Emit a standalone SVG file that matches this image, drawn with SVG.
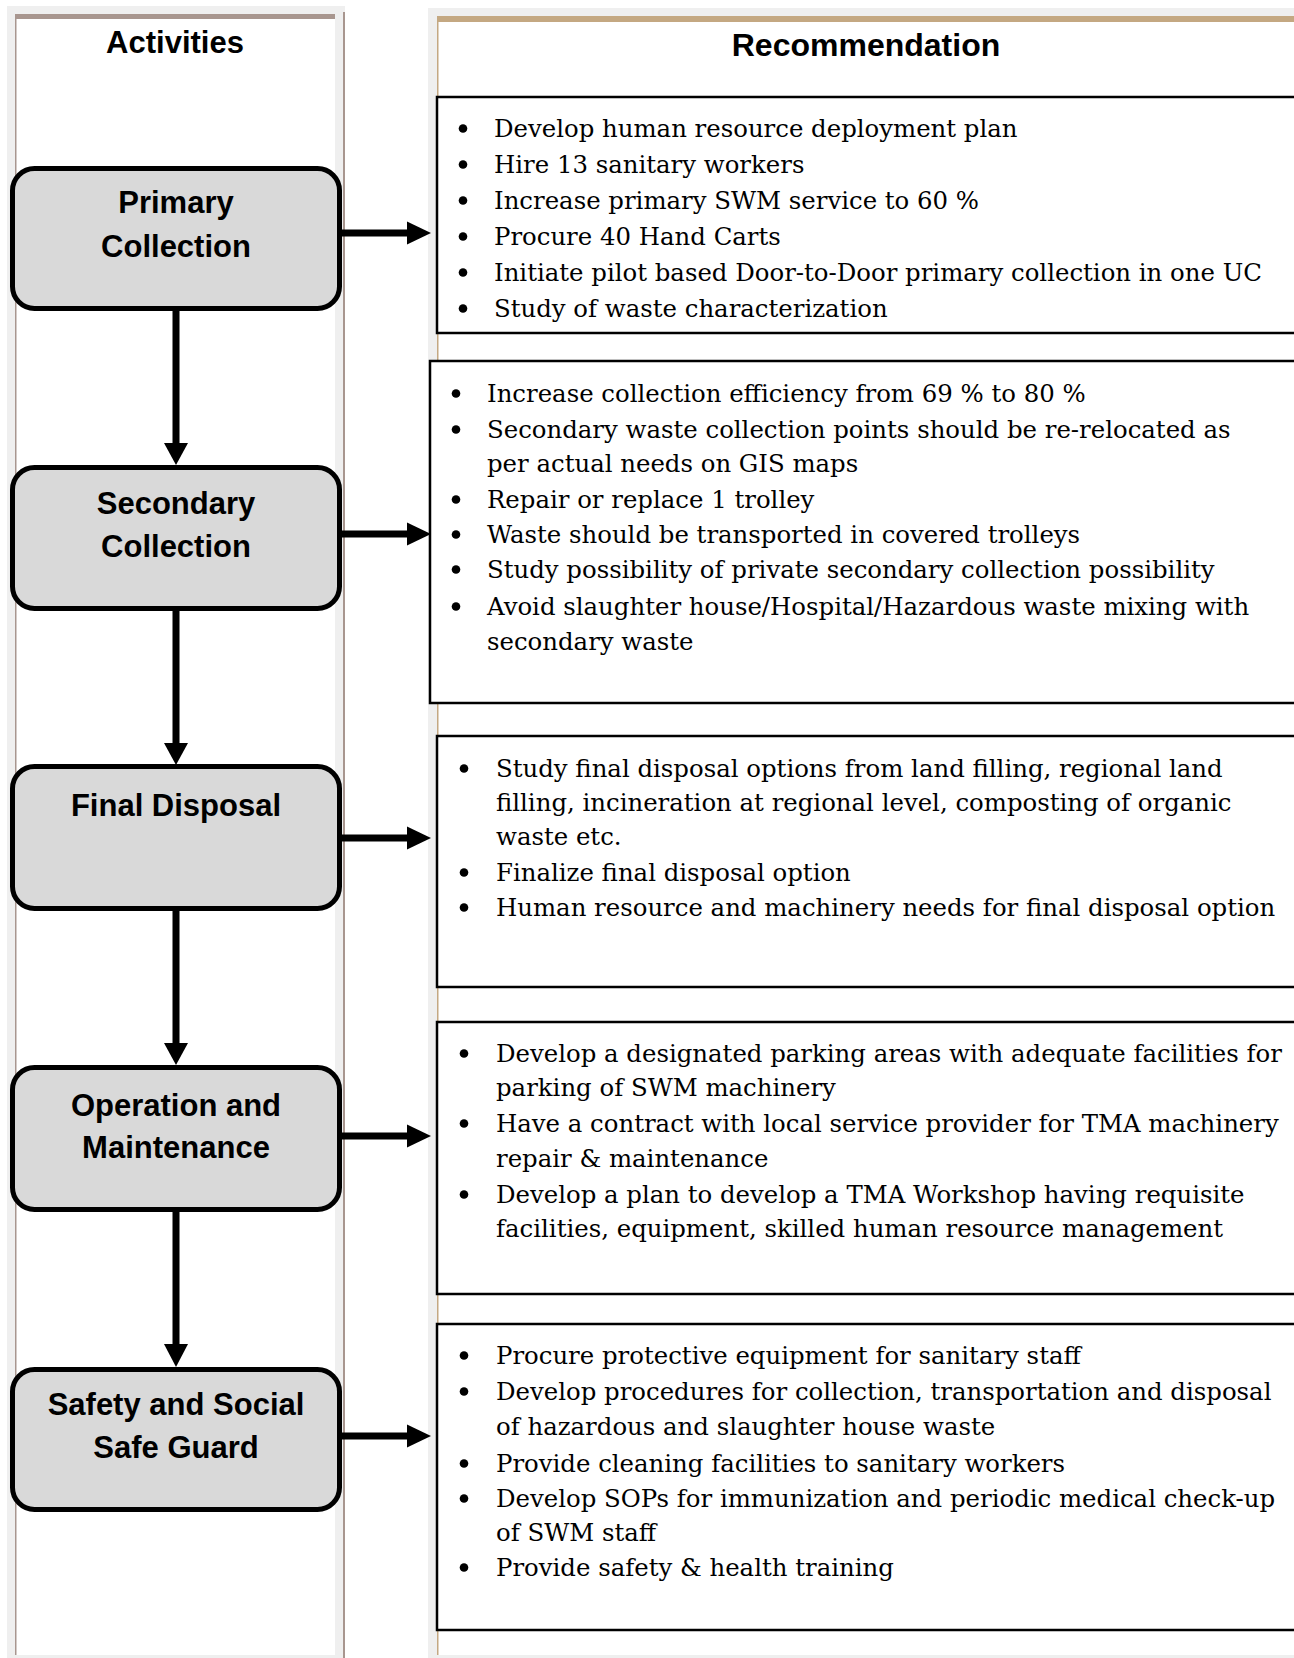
<svg xmlns="http://www.w3.org/2000/svg" width="1294" height="1658" viewBox="0 0 1294 1658">
<style>
.hdr{font-family:"Liberation Sans",Arial,sans-serif;font-weight:bold;font-size:31px;fill:#000;text-anchor:middle}
.lbl{font-family:"Liberation Sans",Arial,sans-serif;font-weight:bold;font-size:31px;fill:#000;text-anchor:middle}
.act{fill:#d9d9d9;stroke:#000;stroke-width:5}
.rec{fill:#fff;stroke:#000;stroke-width:2.5}
.txt{font-family:"DejaVu Serif","Liberation Serif",serif;font-size:24.4px;fill:#000}
.conn{stroke:#000;stroke-width:7;fill:none}
.head{fill:#000}
</style>
<rect width="1294" height="1658" fill="#fff"/>
<!-- left panel -->
<g id="panel-activities">
<rect x="7" y="6" width="338" height="1652" fill="#efefef"/>
<rect x="16" y="14" width="319" height="1641" fill="#fff"/>
<rect x="15" y="14" width="320" height="5" fill="#a8968f"/>
<rect x="15" y="14" width="1.5" height="1641" fill="#a8968f"/>
<rect x="343" y="12" width="2" height="1646" fill="#a8968f"/>
<text class="hdr" x="175" y="53">Activities</text>
</g>
<!-- right panel -->
<g id="panel-recommendation">
<rect x="428" y="8" width="866" height="1650" fill="#efefef"/>
<rect x="438" y="16" width="856" height="1639" fill="#fff"/>
<rect x="437" y="16" width="857" height="6" fill="#c4a882"/>
<rect x="437" y="16" width="1.5" height="1639" fill="#c4a882"/>
<text class="hdr" x="866" y="56" style="font-size:32px">Recommendation</text>
</g>
<!-- activity nodes -->
<g id="node-primary">
<rect class="act" x="12.5" y="168.5" width="327" height="140" rx="22"/>
<text class="lbl" x="176" y="213">Primary</text>
<text class="lbl" x="176" y="257">Collection</text>
</g>
<g id="node-secondary">
<rect class="act" x="12.5" y="467.5" width="327" height="141" rx="22"/>
<text class="lbl" x="176" y="514">Secondary</text>
<text class="lbl" x="176" y="557">Collection</text>
</g>
<g id="node-final">
<rect class="act" x="12.5" y="766.5" width="327" height="142" rx="22"/>
<text class="lbl" x="176" y="816">Final Disposal</text>
</g>
<g id="node-om">
<rect class="act" x="12.5" y="1067.5" width="327" height="142" rx="22"/>
<text class="lbl" x="176" y="1116">Operation and</text>
<text class="lbl" x="176" y="1158">Maintenance</text>
</g>
<g id="node-safety">
<rect class="act" x="12.5" y="1369.5" width="327" height="140" rx="22"/>
<text class="lbl" x="176" y="1415">Safety and Social</text>
<text class="lbl" x="176" y="1458">Safe Guard</text>
</g>
<!-- recommendation nodes -->
<g id="rec-primary">
<rect class="rec" x="437" y="97" width="870" height="236"/>
<g fill="#000"><circle cx="463" cy="128.5" r="4.3"/><circle cx="463" cy="164.5" r="4.3"/><circle cx="463" cy="200.5" r="4.3"/><circle cx="463" cy="236.5" r="4.3"/><circle cx="463" cy="272.5" r="4.3"/><circle cx="463" cy="308.5" r="4.3"/></g>
<text class="txt" x="494" y="137">Develop human resource deployment plan</text>
<text class="txt" x="494" y="173">Hire 13 sanitary workers</text>
<text class="txt" x="494" y="209">Increase primary SWM service to 60 %</text>
<text class="txt" x="494" y="245">Procure 40 Hand Carts</text>
<text class="txt" x="494" y="281">Initiate pilot based Door-to-Door primary collection in one UC</text>
<text class="txt" x="494" y="317">Study of waste characterization</text>
</g>
<g id="rec-secondary">
<rect class="rec" x="430" y="361" width="877" height="342"/>
<g fill="#000"><circle cx="456" cy="393.5" r="4.3"/><circle cx="456" cy="429.5" r="4.3"/><circle cx="456" cy="499.5" r="4.3"/><circle cx="456" cy="534.5" r="4.3"/><circle cx="456" cy="569.5" r="4.3"/><circle cx="456" cy="606.5" r="4.3"/></g>
<text class="txt" x="487" y="402">Increase collection efficiency from 69 % to 80 %</text>
<text class="txt" x="487" y="438">Secondary waste collection points should be re-relocated as</text>
<text class="txt" x="487" y="472">per actual needs on GIS maps</text>
<text class="txt" x="487" y="508">Repair or replace 1 trolley</text>
<text class="txt" x="487" y="543">Waste should be transported in covered trolleys</text>
<text class="txt" x="487" y="578">Study possibility of private secondary collection possibility</text>
<text class="txt" x="487" y="615">Avoid slaughter house/Hospital/Hazardous waste mixing with</text>
<text class="txt" x="487" y="650">secondary waste</text>
</g>
<g id="rec-final">
<rect class="rec" x="437" y="736" width="870" height="251"/>
<g fill="#000"><circle cx="464" cy="768.5" r="4.3"/><circle cx="464" cy="872.5" r="4.3"/><circle cx="464" cy="907.5" r="4.3"/></g>
<text class="txt" x="496" y="777">Study final disposal options from land filling, regional land</text>
<text class="txt" x="496" y="811">filling, incineration at regional level, composting of organic</text>
<text class="txt" x="496" y="845">waste etc.</text>
<text class="txt" x="496" y="881">Finalize final disposal option</text>
<text class="txt" x="496" y="916">Human resource and machinery needs for final disposal option</text>
</g>
<g id="rec-om">
<rect class="rec" x="437" y="1022" width="870" height="272"/>
<g fill="#000"><circle cx="464" cy="1053.5" r="4.3"/><circle cx="464" cy="1123.5" r="4.3"/><circle cx="464" cy="1194.5" r="4.3"/></g>
<text class="txt" x="496" y="1062">Develop a designated parking areas with adequate facilities for</text>
<text class="txt" x="496" y="1096">parking of SWM machinery</text>
<text class="txt" x="496" y="1132">Have a contract with local service provider for TMA machinery</text>
<text class="txt" x="496" y="1167">repair &amp; maintenance</text>
<text class="txt" x="496" y="1203">Develop a plan to develop a TMA Workshop having requisite</text>
<text class="txt" x="496" y="1237">facilities, equipment, skilled human resource management</text>
</g>
<g id="rec-safety">
<rect class="rec" x="437" y="1324" width="870" height="306"/>
<g fill="#000"><circle cx="464" cy="1355.5" r="4.3"/><circle cx="464" cy="1391.5" r="4.3"/><circle cx="464" cy="1463.5" r="4.3"/><circle cx="464" cy="1498.5" r="4.3"/><circle cx="464" cy="1567.5" r="4.3"/></g>
<text class="txt" x="496" y="1364">Procure protective equipment for sanitary staff</text>
<text class="txt" x="496" y="1400">Develop procedures for collection, transportation and disposal</text>
<text class="txt" x="496" y="1435">of hazardous and slaughter house waste</text>
<text class="txt" x="496" y="1472">Provide cleaning facilities to sanitary workers</text>
<text class="txt" x="496" y="1507">Develop SOPs for immunization and periodic medical check-up</text>
<text class="txt" x="496" y="1541">of SWM staff</text>
<text class="txt" x="496" y="1576">Provide safety &amp; health training</text>
</g>
<!-- connectors -->
<g id="connectors">
<line class="conn" x1="176" y1="310" x2="176" y2="445"/>
<polygon class="head" points="164,443 188,443 176,465"/>
<line class="conn" x1="176" y1="610" x2="176" y2="745"/>
<polygon class="head" points="164,743 188,743 176,765"/>
<line class="conn" x1="176" y1="910" x2="176" y2="1045"/>
<polygon class="head" points="164,1043 188,1043 176,1065"/>
<line class="conn" x1="176" y1="1211" x2="176" y2="1346"/>
<polygon class="head" points="164,1344 188,1344 176,1367"/>
<line class="conn" x1="342" y1="233" x2="409" y2="233"/>
<polygon class="head" points="407,221.5 431,233 407,244.5"/>
<line class="conn" x1="342" y1="534" x2="409" y2="534"/>
<polygon class="head" points="407,522.5 431,534 407,545.5"/>
<line class="conn" x1="342" y1="838" x2="409" y2="838"/>
<polygon class="head" points="407,826.5 431,838 407,849.5"/>
<line class="conn" x1="342" y1="1136" x2="409" y2="1136"/>
<polygon class="head" points="407,1124.5 431,1136 407,1147.5"/>
<line class="conn" x1="342" y1="1436" x2="409" y2="1436"/>
<polygon class="head" points="407,1424.5 431,1436 407,1447.5"/>
</g>
</svg>
